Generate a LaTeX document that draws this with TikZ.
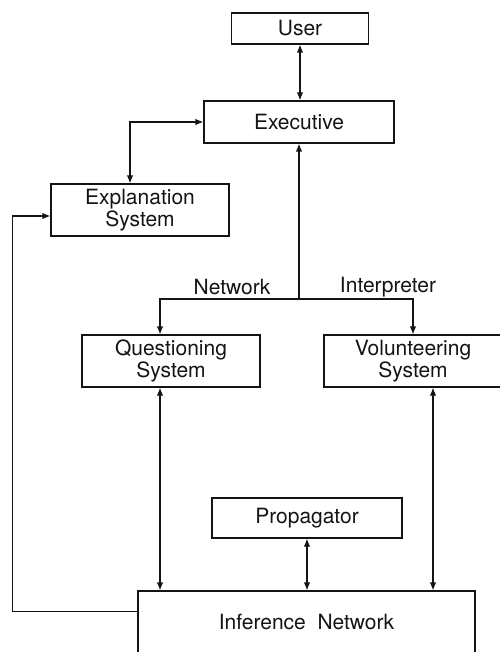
\documentclass[tikz,border=0pt]{standalone}
\usepackage{fontspec}
\setmainfont{TeX Gyre Heros}
\usepackage{tikz}
\usetikzlibrary{arrows.meta}
\definecolor{ink}{rgb}{0.08,0.08,0.08}

\begin{document}
\begin{tikzpicture}[x=1pt,y=-1pt,line width=1.2pt,
  box/.style={draw=ink,rectangle,inner sep=0pt,align=center,text=ink,font=\fontsize{21}{21.5}\selectfont},
  lbl/.style={inner sep=0pt,text=ink,font=\fontsize{21}{21.5}\selectfont},
  tip/.style={draw=ink,-{Latex[length=8pt,width=6.5pt]}},
  both/.style={draw=ink,{Latex[length=8pt,width=6.5pt]}-{Latex[length=8pt,width=6.5pt]}}]
\useasboundingbox (0,0) rectangle (499,652);
\node[box,minimum width=137pt,minimum height=31pt] (user) at (300,28.5) {User};
\node[box,minimum width=190pt,minimum height=42pt] (exec) at (299,122) {Executive};
\node[box,minimum width=178pt,minimum height=52pt] (expl) at (140,210) {Explanation\\System};
\node[box,minimum width=178pt,minimum height=52pt] (quest) at (171,361) {Questioning\\System};
\node[box,minimum width=178pt,minimum height=52pt] (volun) at (413,361) {Volunteering\\System};
\node[box,minimum width=190pt,minimum height=40pt] (prop) at (307,518) {Propagator};
\node[box,minimum width=337pt,minimum height=80pt,text depth=18pt] (inf) at (306.5,631) {Inference\ \ Network};
\node[lbl] (net) at (232,287) {Network};
\node[lbl] (interp) at (388,287) {Interpreter};
\coordinate (fork) at (299,299);
% executive links
\draw[both] (user.south) -- (user.south |- exec.north);
\draw[both] (exec.west) -| ([xshift=-10pt]expl.north);
\draw[tip] (fork) -- (exec.south);
\draw[tip] (fork) -| ([xshift=-11pt]quest.north);
\draw[tip] (fork) -| (volun.north);
% inference network links
\draw[both] ([xshift=-11pt]quest.south) -- ([xshift=-11pt]quest.south |- inf.north);
\draw[both] ([xshift=20pt]volun.south) -- ([xshift=20pt]volun.south |- inf.north);
\draw[both] (prop.south) -- (prop.south |- inf.north);
\draw[tip] ([yshift=-21pt]inf.north west) -- ++(-125,0) |- ([yshift=-6pt]expl.west);
\end{tikzpicture}
\end{document}
